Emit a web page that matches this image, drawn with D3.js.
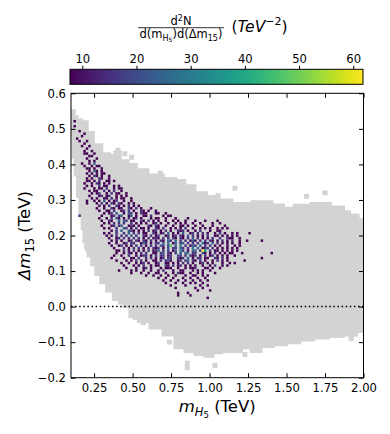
<!DOCTYPE html>
<html>
<head>
<meta charset="utf-8">
<script src="https://cdn.jsdelivr.net/npm/d3@7"></script>
<style>
  body { margin: 0; background: #fff; }
  svg { display: block; font-family: "DejaVu Sans", sans-serif; }
</style>
</head>
<body>
<svg id="chart" width="390" height="434"></svg>
<script>
// tick labels
const xTicks = [0.25, 0.5, 0.75, 1.0, 1.25, 1.5, 1.75, 2.0]
const yTicks = [-0.2, -0.1, 0.0, 0.1, 0.2, 0.3, 0.4, 0.5, 0.6]
const cbarTicks = [10, 20, 30, 40, 50, 60]
const densityRange = [7.73, 61.8]
const densityPerCount = 7.73

// 2d histogram: bins start at (0.1 TeV, 0.0 TeV), step 0.016 x 0.007
// each row: [row index, counts per column from column 0], spaces only group by 5
const binOrigin = [0.1, 0.0]
const binSize = [0.016, 0.007]
const histRows = [
  [74, ".1"],
  [72, ".1"],
  [70, "...1"],
  [69, "..... 1"],
  [68, "....1"],
  [67, "..1"],
  [66, "...1. .1"],
  [65, "..... 1"],
  [64, "....1 ..1"],
  [63, "..... .1"],
  [62, "..... 1..1"],
  [61, "..... 11..1"],
  [60, "..... ..11"],
  [59, "..... .1... 1"],
  [58, "..... ..1.1"],
  [57, "....1 ..1.3"],
  [56, "..... 1..1. 11"],
  [55, "..... .11.1 ..1"],
  [54, "..... ..1.3 1.1"],
  [53, "..... .1.1. 1.11"],
  [52, "..... ..1.2 1.1.. 1"],
  [51, "..... .1.1. .21.. 1"],
  [50, "..... .11.1 .2..1 1.1"],
  [49, "..... 1..1. 21.1. 1"],
  [48, "..... .1.1. .2.11 ..1.1"],
  [47, "..... 1...1 .11.2 ..1.1 1"],
  [46, "..... ..1.1 1..2. 1.2.. 1"],
  [45, "..... ...1. 12..1 .2.11 ..1"],
  [44, "..... ..1.. .12.1 2..1. 1.1"],
  [43, "..... ...1. 1..11 .2.1. 11..1"],
  [42, "..... .1..1 .1.3. 1.12. .1..1"],
  [41, "..... .1... 1.2.1 .21.2 1..1. 1"],
  [40, "..... ..... .1.1. 2..21 .1.2. 1.1"],
  [39, "..... ..... 1..1. .21.1 1..21 .2.1. ..1"],
  [38, "..... ..... .1..1 1.2.. 12.2. 1..21 .1..1"],
  [37, "..... ..... ...1. 12.3. .1.32 .1.21 1...1 1..1"],
  [36, "...2. ..... ..1.. .12.2 3..13 .1..1 1.2.. ..1.1 1"],
  [35, "..... ..... .1..1 .2.31 .1.2. 12.1. ..1.1 1..1. ..1.. ..1"],
  [34, "..... ..... ..1.. 21..3 .32.1 1..21 .2.1. 1..1. .1.1. .1... 1...1 ....1"],
  [33, "..... ..... ...1. 1.2.2 .2..2 .1.1. 1..12 .1..1 ..1.1 .1..1 ..1.. ..1.. 1"],
  [32, "..... ..... ..1.. .12.2 3..12 1.1.. .21.2 1..1. .1..1 1.1.. 1..1. ..1.. ..1"],
  [31, "..... ..... ...1. 1..2. .32.1 .2.11 .1..2 1.2.. 1.1.1 .2..1 ..1.1 .1..1 .1.1."],
  [30, "..... ..... ..... .1.2. 3..32 1.1.1 .2.12 .1.2. 1..21 2.1.. 1.2.. .1..1 1"],
  [29, "..... ..... ...1. 1..2. .2.3. 2.2.1 1..21 .12.3 .1.1. 3..12 .2.2. 1..1. 2.1.. 1.1.. ..1"],
  [28, "..... ..... ....1 .1.2. 2.2.3 .2..2 1.2.1 2..12 .12.2 1.3.2 .1.1. 2..11 .1.1. 1.1"],
  [27, "..... ..... ..... 1..12 .2.2. 2.2.1 .2.12 1.2.2 .21.2 1.2.3 .2.1. 1.2.. 2..21 1..1"],
  [26, "..... ..... ..... .1.1. 1..12 .21.2 1.2.1 .21.3 2.3.2 .2.13 1.2.2 .21.1 .2.1. 2..1. .1... ..1"],
  [25, "..... ..... ..... 1..1. .12.2 2..13 2.1.2 2.3.4 .13.2 3.2.2 .2.41 2.3.2 .1.1. 1..1."],
  [24, "..... ..... ..... .1..1 2.1.1 .2.2. 1.2.2 .32.2 6.3.4 .2.13 2.3.2 .2.1. 1..1. .1.1"],
  [23, "..... ..... ..... ..1.. .2.1. 2.2.1 .2.21 2.1.3 .22.3 2.2.4 .3.12 2.2.1 .1.1. 1.1"],
  [22, "..... ..... ..... ...11 .2.1. 2.1.1 .2.12 3.2.2 .13.4 2.1.3 3.285 .2.11 .1.1. 1.1"],
  [21, "..... ..... ..... ...1. .1.21 .1.2. 2..11 .23.2 1.2.3 .34.2 2..31 .1.2. 1.1.1 1...1 ..... ..... .1"],
  [20, "..... ..... ..... ..1.. 1..2. .1.12 2.1.2 .22.1 2..32 .2.21 2.1.2 .12.1 .1.1. .1"],
  [19, "..... ..... ..... .1... .1..1 1.2.. 2.2.1 .12.2 2..21 2.3.1 .22.1 1..21 .2.1. ..... ..... ..1"],
  [18, "..... ..... ..... ...1. ..1.1 .2.2. 1..11 .2.23 1..12 .23.2 1.2.1 ..1.2 .1.1. ..... 1"],
  [17, "..... ..... ..... ..... 1..1. .1.12 .1..1 2..11 .1.1. 2.2.1 ..12. 1.1.. .1..1 .1"],
  [16, "..... ..... ..... ..... .1... 1.1.2 ..1.1 1..21 .2.12 .1.1. 1..1. .1.2. .1.1."],
  [15, "..... ..... ..... ..... ..1.. .1..1 2.1.. .1.11 1..1. .1.11 2...1 1.1.. 1"],
  [14, "..... ..... ..... ....1 ....1 .1..1 ..1.. 1.2.. .1..1 1...1 .1.1. .1..."],
  [13, "..... ..... ..... ..... ....1 ...1. .1..1 1..1. .1.21 1..1. .1.1. ...1."],
  [12, "..... ..... ..... ..... ..... ..... 1..1. .1..1 ..1.. .1..1 1..1. 1"],
  [11, "..... ..... ..... ..... ..... ..... ..... 1..1. .1... 1..1. .1..1"],
  [10, "..... ..... ..... ..... ..... ..... ..... ..1.. 1..1. .1..1 ..1.. 1"],
  [9, "..... ..... ..... ..... ..... ..... ..... ...1. ..1.. 1..1. 1..1."],
  [8, "..... ..... ..... ..... ..... ..... ..... ..... 1.... .1... ..1.. 1"],
  [7, "..... ..... ..... ..... ..... ..... ..... ..... ..1.. ..... 1..1."],
  [6, "..... ..... ..... ..... ..... ..... ..... ..... ..... ..... .1... .1"],
  [5, "..... ..... ..... ..... ..... ..... ..... ..... ...1. ..1"],
  [4, "..... ..... ..... ..... ..... ..... ..... ..... ...1. ...1."],
  [3, "..... ..... ..... ..... ..... ..... ..... ..... ..... ..... ..... 1"]
]

// grey scan points: outline of the dense region, then stray points
const grayOutline = [
  [0.105, 0.54], [0.13, 0.535], [0.15, 0.525], [0.19, 0.52], [0.22, 0.49], [0.27, 0.455],
  [0.33, 0.43], [0.37, 0.425], [0.40, 0.435], [0.44, 0.41], [0.50, 0.40], [0.55, 0.385],
  [0.65, 0.37], [0.75, 0.36], [0.81, 0.355], [0.87, 0.34], [0.94, 0.32], [1.02, 0.31],
  [1.09, 0.30], [1.20, 0.29], [1.35, 0.295], [1.46, 0.286], [1.50, 0.277], [1.60, 0.285],
  [1.72, 0.29], [1.85, 0.28], [1.89, 0.267], [1.93, 0.258], [2.0, 0.245],
  [2.0, -0.07], [1.91, -0.08], [1.825, -0.084], [1.72, -0.088], [1.63, -0.094], [1.54, -0.102],
  [1.46, -0.107], [1.37, -0.112], [1.30, -0.126], [1.24, -0.116], [1.176, -0.126], [1.11, -0.126],
  [1.046, -0.13], [1.0, -0.14], [0.94, -0.135], [0.87, -0.126], [0.81, -0.116], [0.74, -0.08],
  [0.656, -0.06], [0.57, -0.042], [0.505, -0.028], [0.46, 0.0], [0.43, 0.01], [0.397, 0.02],
  [0.353, 0.044], [0.31, 0.067], [0.277, 0.09], [0.245, 0.118], [0.223, 0.142], [0.20, 0.165],
  [0.19, 0.19], [0.18, 0.22], [0.165, 0.26], [0.15, 0.31], [0.135, 0.37], [0.12, 0.42],
  [0.11, 0.48]
]
const grayDots = [
  [0.115, 0.548], [0.405, 0.44], [0.45, 0.43], [0.494, 0.42], [0.68, 0.375], [1.055, 0.312],
  [1.165, 0.333], [1.63, 0.31], [1.75, 0.32], [0.19, 0.185], [0.21, 0.16], [0.516, -0.03],
  [0.57, -0.045], [0.74, -0.1], [0.855, -0.159], [0.855, -0.172], [1.035, -0.165], [1.23, -0.135],
  [1.92, -0.09]
]

const W = 390, H = 434
const margin = { left: 71, right: 363.5, top: 93.3, bottom: 377.7 }
const svg = d3.select('#chart')

const x = d3.scaleLinear().domain([0.1, 2.0]).range([margin.left, margin.right])
const y = d3.scaleLinear().domain([-0.2, 0.6]).range([margin.bottom, margin.top])
const color = d3.scaleSequential(d3.interpolateViridis).domain(densityRange)

svg.append('clipPath').attr('id', 'plot-clip')
  .append('rect')
  .attr('x', margin.left).attr('y', margin.top)
  .attr('width', margin.right - margin.left)
  .attr('height', margin.bottom - margin.top)

const plot = svg.append('g').attr('clip-path', 'url(#plot-clip)')

// grey background region
plot.append('path')
  .attr('d', d3.line().x(d => x(d[0])).y(d => y(d[1])).curve(d3.curveStep)(grayOutline) + 'Z')
  .attr('fill', '#d3d3d3')
  .attr('stroke', '#d3d3d3')
  .attr('stroke-width', 3)

plot.selectAll('rect.gdot')
  .data(grayDots)
  .enter()
  .append('rect')
  .attr('class', 'gdot')
  .attr('x', d => x(d[0]) - 2.5)
  .attr('y', d => y(d[1]) - 2.5)
  .attr('width', 5)
  .attr('height', 5)
  .attr('fill', '#d3d3d3')

// histogram cells
const cells = []
histRows.forEach(([r, s]) => {
  s.replace(/ /g, '').split('').forEach((ch, c) => {
    if (ch !== '.') cells.push({ r, c, value: +ch * densityPerCount })
  })
})

plot.selectAll('rect.cell')
  .data(cells)
  .enter()
  .append('rect')
  .attr('class', 'cell')
  .attr('x', d => x(binOrigin[0] + d.c * binSize[0]))
  .attr('y', d => y(binOrigin[1] + (d.r + 1) * binSize[1]))
  .attr('width', d => x(binOrigin[0] + (d.c + 1) * binSize[0]) - x(binOrigin[0] + d.c * binSize[0]))
  .attr('height', d => y(binOrigin[1] + d.r * binSize[1]) - y(binOrigin[1] + (d.r + 1) * binSize[1]))
  .attr('fill', d => color(d.value))

// zero line
svg.append('line')
  .attr('x1', margin.left).attr('x2', margin.right)
  .attr('y1', y(0)).attr('y2', y(0))
  .attr('stroke', '#000')
  .attr('stroke-width', 1.5)
  .attr('stroke-dasharray', '1.5,2.6')

// axes, ticks pointing inward on all four sides
const fmtX = d3.format('.2f')
const fmtY = d3.format('.1f')

function styleAxis(g) {
  g.select('.domain').remove()
  g.selectAll('.tick line').attr('stroke', '#000').attr('stroke-width', 1)
  g.selectAll('.tick text').attr('fill', '#000').style('font-size', '11.6px')
    .style('font-family', '"DejaVu Sans", sans-serif')
}

svg.append('g')
  .attr('transform', `translate(0,${margin.bottom})`)
  .call(d3.axisBottom(x).tickValues(xTicks).tickFormat(fmtX).tickSizeInner(-4.5).tickSizeOuter(0).tickPadding(6))
  .call(styleAxis)

svg.append('g')
  .attr('transform', `translate(0,${margin.top})`)
  .call(d3.axisTop(x).tickValues(xTicks).tickFormat('').tickSizeInner(-4.5).tickSizeOuter(0))
  .call(styleAxis)

svg.append('g')
  .attr('transform', `translate(${margin.left},0)`)
  .call(d3.axisLeft(y).tickValues(yTicks).tickFormat(fmtY).tickSizeInner(-4.5).tickSizeOuter(0).tickPadding(5))
  .call(styleAxis)

svg.append('g')
  .attr('transform', `translate(${margin.right},0)`)
  .call(d3.axisRight(y).tickValues(yTicks).tickFormat('').tickSizeInner(-4.5).tickSizeOuter(0))
  .call(styleAxis)

svg.append('rect')
  .attr('x', margin.left).attr('y', margin.top)
  .attr('width', margin.right - margin.left)
  .attr('height', margin.bottom - margin.top)
  .attr('fill', 'none')
  .attr('stroke', '#000')
  .attr('stroke-width', 1)

// axis labels
const xl = svg.append('text')
  .attr('x', (margin.left + margin.right) / 2)
  .attr('y', 412)
  .attr('text-anchor', 'middle')
  .style('font-size', '16.5px')
xl.append('tspan').attr('font-style', 'italic').text('m')
xl.append('tspan').attr('font-style', 'italic').attr('dy', 3.5).style('font-size', '11.5px').text('H')
xl.append('tspan').attr('dy', 2).style('font-size', '8.5px').text('5')
xl.append('tspan').attr('dy', -5.5).text(' (TeV)')

const yl = svg.append('text')
  .attr('transform', `translate(30,${(margin.top + margin.bottom) / 2}) rotate(-90)`)
  .attr('text-anchor', 'middle')
  .style('font-size', '16.5px')
yl.append('tspan').attr('font-style', 'italic').text('Δm')
yl.append('tspan').attr('dy', 3.5).style('font-size', '11.5px').text('15')
yl.append('tspan').attr('dy', -3.5).text(' (TeV)')

// colorbar
const cb = { x0: 70, x1: 363, y0: 69.3, y1: 84.3 }
const cbScale = d3.scaleLinear().domain(densityRange).range([cb.x0, cb.x1])

const grad = svg.append('defs').append('linearGradient').attr('id', 'viridis-grad')
d3.range(0, 1.0001, 0.05).forEach(t => {
  grad.append('stop').attr('offset', t).attr('stop-color', d3.interpolateViridis(t))
})

svg.append('rect')
  .attr('x', cb.x0).attr('y', cb.y0)
  .attr('width', cb.x1 - cb.x0).attr('height', cb.y1 - cb.y0)
  .attr('fill', 'url(#viridis-grad)')
  .attr('stroke', '#000')
  .attr('stroke-width', 1)

svg.append('g')
  .attr('transform', `translate(0,${cb.y0})`)
  .call(d3.axisTop(cbScale).tickValues(cbarTicks).tickFormat(d3.format('d')).tickSizeInner(3.5).tickSizeOuter(0).tickPadding(3))
  .call(styleAxis)

// colorbar title: fraction + units
const fracX = 181
svg.append('line')
  .attr('x1', 138).attr('x2', 224)
  .attr('y1', 27.7).attr('y2', 27.7)
  .attr('stroke', '#000').attr('stroke-width', 0.8)

const num = svg.append('text')
  .attr('x', fracX).attr('y', 24.5)
  .attr('text-anchor', 'middle')
  .style('font-size', '11.5px')
num.append('tspan').text('d')
num.append('tspan').attr('dy', -4).style('font-size', '8px').text('2')
num.append('tspan').attr('dy', 4).text('N')

const den = svg.append('text')
  .attr('x', fracX).attr('y', 38)
  .attr('text-anchor', 'middle')
  .style('font-size', '11.5px')
den.append('tspan').text('d(m')
den.append('tspan').attr('dy', 2.5).style('font-size', '8px').text('H')
den.append('tspan').attr('dy', 1.5).style('font-size', '6px').text('5')
den.append('tspan').attr('dy', -4).text(')d(Δm')
den.append('tspan').attr('dy', 2.5).style('font-size', '8px').text('15')
den.append('tspan').attr('dy', -2.5).text(')')

const unit = svg.append('text')
  .attr('x', 231.5).attr('y', 31.5)
  .style('font-size', '15.5px')
unit.append('tspan').text('(')
unit.append('tspan').attr('font-style', 'italic').text('TeV')
unit.append('tspan').attr('dy', -7).style('font-size', '11px').text('−2')
unit.append('tspan').attr('dy', 7).text(')')
</script>
</body>
</html>
